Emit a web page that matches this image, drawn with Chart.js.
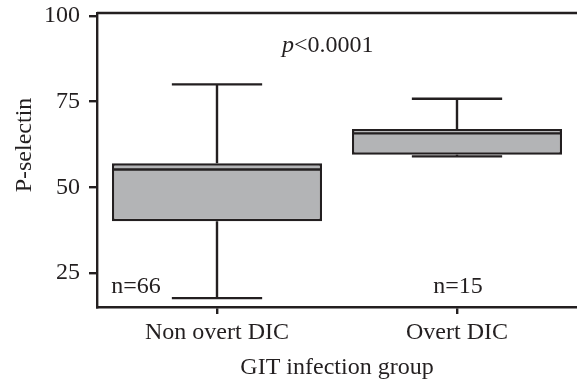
<!DOCTYPE html>
<html>
<head>
<meta charset="utf-8">
<script src="https://cdn.jsdelivr.net/npm/chart.js@4.4.0/dist/chart.umd.min.js"></script>
<style>
  html, body { margin: 0; padding: 0; background: #fff; }
</style>
</head>
<body>
<canvas id="boxChart" width="577" height="382"></canvas>
<script>
// values
const groups = ['Non overt DIC', 'Overt DIC'];
const whiskerLow = [17.7, 59.0];
const quartile1 = [40.1, 59.5];
const medians = [55.2, 65.7];
const quartile3 = [57.0, 67.0];
const whiskerHigh = [80.0, 75.8];
const groupSizes = [66, 15];
const yTicks = [25, 50, 75, 100];
const pValue = '<0.0001';

const ink = '#231f20';
const boxFill = '#b3b4b6';
const serif = '"Liberation Serif", "Times New Roman", serif';
const lw = 2.4;

// whiskers, medians, frame top and the text annotations
const boxPlot = {
  id: 'boxPlot',
  afterDatasetsDraw(chart) {
    const ctx = chart.ctx;
    const y = chart.scales.y;
    const area = chart.chartArea;
    const meta = chart.getDatasetMeta(0);

    ctx.save();
    ctx.strokeStyle = ink;
    ctx.lineWidth = lw;
    meta.data.forEach((bar, i) => {
      const cx = bar.x;
      const half = bar.width / 2;
      const cap = bar.width * 0.215;
      const yMed = y.getPixelForValue(medians[i]);
      const yQ1 = y.getPixelForValue(quartile1[i]);
      const yQ3 = y.getPixelForValue(quartile3[i]);
      const yLo = y.getPixelForValue(whiskerLow[i]);
      const yHi = y.getPixelForValue(whiskerHigh[i]);
      ctx.beginPath();
      ctx.moveTo(cx - half, yMed); ctx.lineTo(cx + half, yMed);
      ctx.moveTo(cx, yQ3); ctx.lineTo(cx, yHi);
      ctx.moveTo(cx - cap, yHi); ctx.lineTo(cx + cap, yHi);
      ctx.moveTo(cx, yQ1); ctx.lineTo(cx, yLo);
      ctx.moveTo(cx - cap, yLo); ctx.lineTo(cx + cap, yLo);
      ctx.stroke();
    });

    // top line of the frame
    ctx.beginPath();
    ctx.moveTo(area.left, area.top);
    ctx.lineTo(area.right, area.top);
    ctx.stroke();

    ctx.fillStyle = ink;
    ctx.textBaseline = 'alphabetic';

    // n labels
    ctx.font = '24px ' + serif;
    ctx.textAlign = 'center';
    const nX = [136, 458];
    groupSizes.forEach((n, i) => {
      ctx.fillText('n=' + n, nX[i], area.bottom - 14);
    });

    // p value, italic p
    ctx.textAlign = 'left';
    ctx.font = 'italic 24px ' + serif;
    ctx.fillText('p', 282, 52);
    const pw = ctx.measureText('p').width;
    ctx.font = '24px ' + serif;
    ctx.fillText(pValue, 282 + pw, 52);

    // axis titles
    ctx.textAlign = 'center';
    ctx.fillText('GIT infection group', (area.left + area.right) / 2, 374);
    ctx.translate(31, 145);
    ctx.rotate(-Math.PI / 2);
    ctx.fillText('P-selectin', 0, 0);
    ctx.restore();
  }
};

new Chart(document.getElementById('boxChart'), {
  type: 'bar',
  data: {
    labels: groups,
    datasets: [{
      data: quartile1.map((q, i) => [q, quartile3[i]]),
      backgroundColor: boxFill,
      borderColor: ink,
      borderWidth: lw,
      borderSkipped: false,
      barPercentage: 0.875,
      categoryPercentage: 1
    }]
  },
  options: {
    responsive: false,
    animation: false,
    layout: { padding: { top: 13, left: 0, right: 0, bottom: 0 } },
    plugins: { legend: { display: false }, tooltip: { enabled: false } },
    scales: {
      x: {
        offset: true,
        grid: { offset: false, drawOnChartArea: false, tickLength: 7, color: ink, lineWidth: lw },
        border: { display: true, color: ink, width: lw },
        ticks: { color: ink, font: { family: serif, size: 24 }, padding: 4, maxRotation: 0 },
        afterFit: s => { s.height = 75; s.paddingLeft = 0; s.paddingRight = 0; }
      },
      y: {
        min: 15.1,
        max: 100.8,
        afterBuildTicks: s => { s.ticks = yTicks.map(v => ({ value: v })); },
        grid: { drawOnChartArea: false, tickLength: 8, color: ink, lineWidth: lw },
        border: { display: true, color: ink, width: lw },
        ticks: { color: ink, font: { family: serif, size: 24 }, padding: 9 },
        afterFit: s => { s.width = 97; s.paddingTop = 0; s.paddingBottom = 0; }
      }
    }
  },
  plugins: [boxPlot]
});
</script>
</body>
</html>
